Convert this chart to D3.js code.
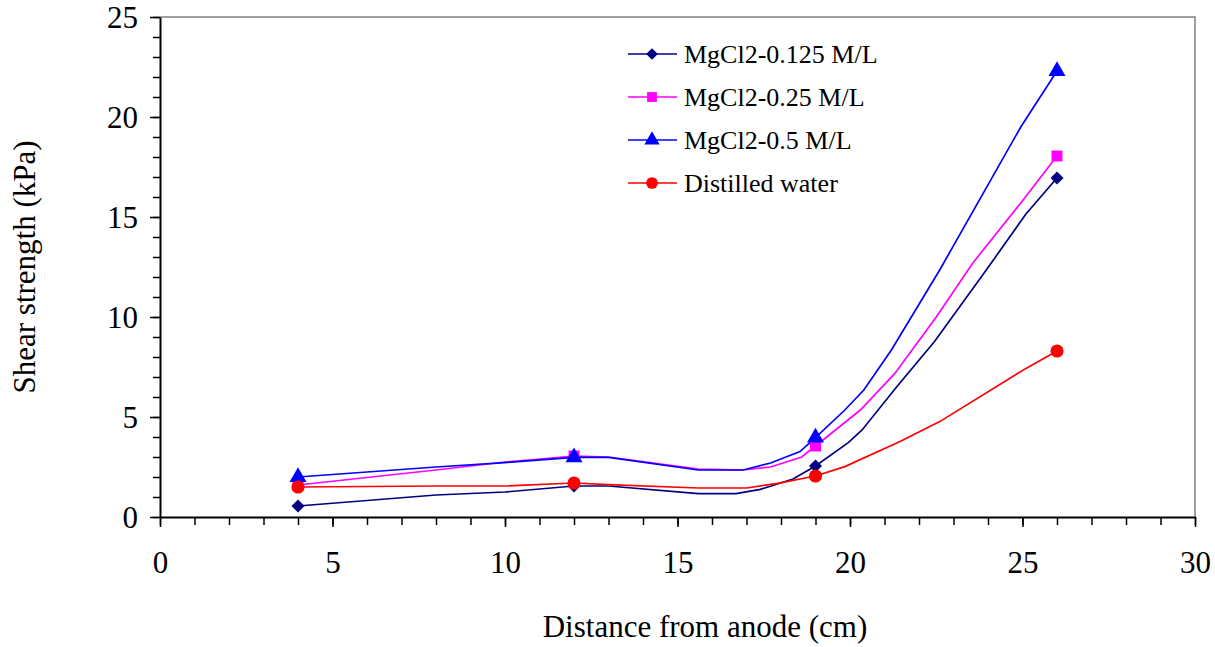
<!DOCTYPE html>
<html>
<head>
<meta charset="utf-8">
<script src="https://cdn.jsdelivr.net/npm/d3@7"></script>
<style>
  body { margin: 0; background: #fff; }
  svg text { font-family: "Liberation Serif", "Times New Roman", serif; fill: #000; }
</style>
</head>
<body>
<svg id="chart" width="1215" height="647"></svg>
<script>
// measured points (markers)
const distance = [4, 12, 19, 26]
const mg0125 = [0.55, 1.55, 2.55, 16.95]
const mg025 = [1.6, 3.05, 3.55, 18.05]
const mg05 = [2.0, 2.98, 3.97, 22.3]
const water = [1.5, 1.7, 2.05, 8.3]

// line traces as they appear in the picture (x, y pairs)
const mg0125Line = [[4, 0.55], [8, 1.1], [10, 1.25], [12, 1.55], [13, 1.55], [15.6, 1.17], [16.7, 1.17], [17.4, 1.38], [18.35, 1.9], [19, 2.55], [19.95, 3.72], [20.35, 4.35], [21.35, 6.5], [22.45, 8.77], [23.95, 12.35], [25.1, 15.15], [26, 16.95]]
const mg025Line = [[4, 1.6], [8, 2.35], [10, 2.75], [12, 3.05], [13, 3.0], [15.6, 2.4], [16.9, 2.35], [17.7, 2.5], [18.6, 3.0], [19, 3.55], [20.3, 5.35], [21.3, 7.18], [22.5, 10.0], [23.55, 12.68], [24.95, 15.7], [26, 18.05]]
const mg05Line = [[4, 2.0], [8, 2.5], [10, 2.72], [12, 2.98], [13, 2.98], [15.6, 2.35], [16.9, 2.35], [17.7, 2.7], [18.55, 3.27], [19, 3.97], [19.85, 5.35], [20.4, 6.35], [21.2, 8.35], [22.6, 12.35], [24.95, 19.5], [26, 22.3]]
const waterLine = [[4, 1.5], [8, 1.55], [10, 1.55], [12, 1.7], [13, 1.62], [15.6, 1.45], [17, 1.45], [17.9, 1.68], [19, 2.05], [19.85, 2.52], [21.45, 3.77], [22.6, 4.77], [25.1, 7.43], [26, 8.3]]

const seriesNames = ['MgCl2-0.125 M/L', 'MgCl2-0.25 M/L', 'MgCl2-0.5 M/L', 'Distilled water']
const xTicks = [0, 5, 10, 15, 20, 25, 30]
const yTicks = [0, 5, 10, 15, 20, 25]

const series = [
  { name: seriesNames[0], values: mg0125, line: mg0125Line, color: '#000080', symbol: d3.symbolSquare, size: 85, rot: 45 },
  { name: seriesNames[1], values: mg025, line: mg025Line, color: '#FF00FF', symbol: d3.symbolSquare, size: 120, rot: 0 },
  { name: seriesNames[2], values: mg05, line: mg05Line, color: '#0000FF', symbol: d3.symbolTriangle, size: 125, rot: 0 },
  { name: seriesNames[3], values: water, line: waterLine, color: '#FF0000', symbol: d3.symbolCircle, size: 135, rot: 0 }
]

const serif = 'Liberation Serif, Times New Roman, serif'
const svg = d3.select('#chart')
const plotL = 160, plotR = 1195, plotT = 17, plotB = 517

const x = d3.scaleLinear().domain([0, 30]).range([plotL, plotR])
const y = d3.scaleLinear().domain([0, 25]).range([plotB, plotT])

// plot border (top and right in grey)
svg.append('path')
  .attr('d', `M${plotL},${plotT}H${plotR}V${plotB}`)
  .attr('fill', 'none').attr('stroke', '#808080').attr('stroke-width', 1.5)

// minor ticks
svg.append('g').attr('transform', `translate(0,${plotB})`)
  .call(d3.axisBottom(x).tickValues(d3.range(0, 31)).tickSize(8).tickFormat(''))
  .call(g => g.select('.domain').remove())
svg.append('g').attr('transform', `translate(${plotL},0)`)
  .call(d3.axisLeft(y).tickValues(d3.range(0, 26)).tickSize(7).tickFormat(''))
  .call(g => g.select('.domain').remove())

// major axes
const xAxis = svg.append('g').attr('transform', `translate(0,${plotB})`)
  .call(d3.axisBottom(x).tickValues(xTicks).tickSize(10).tickSizeOuter(0).tickPadding(24))
const yAxis = svg.append('g').attr('transform', `translate(${plotL},0)`)
  .call(d3.axisLeft(y).tickValues(yTicks).tickSize(10).tickSizeOuter(0).tickPadding(12))

xAxis.attr('font-family', serif).attr('font-size', 31)
yAxis.attr('font-family', serif).attr('font-size', 31)
svg.selectAll('.tick line').attr('stroke', '#000').attr('stroke-width', 1.5)
svg.selectAll('.domain').attr('stroke', '#000').attr('stroke-width', 2)
yAxis.selectAll('.tick text').attr('dy', '0.33em')

// lines and markers
const line = d3.line().x(d => x(d[0])).y(d => y(d[1]))
series.forEach(s => {
  svg.append('path').datum(s.line)
    .attr('d', line)
    .attr('fill', 'none').attr('stroke', s.color).attr('stroke-width', 1.7)
})
series.forEach(s => {
  svg.append('g').selectAll('path').data(distance).enter()
    .append('path')
    .attr('transform', (d, i) => `translate(${x(d)},${y(s.values[i])}) rotate(${s.rot})`)
    .attr('d', d3.symbol().type(s.symbol).size(s.size))
    .attr('fill', s.color)
})

// legend
const legend = svg.append('g')
series.forEach((s, i) => {
  const ly = 54 + i * 43
  legend.append('line').attr('x1', 628).attr('x2', 677).attr('y1', ly).attr('y2', ly)
    .attr('stroke', s.color).attr('stroke-width', 1.7)
  legend.append('path').attr('transform', `translate(652,${ly}) rotate(${s.rot})`)
    .attr('d', d3.symbol().type(s.symbol).size(s.size * 0.8)).attr('fill', s.color)
  legend.append('text').attr('x', 684).attr('y', ly + 9)
    .attr('font-family', serif).attr('font-size', 26).text(s.name)
})

// axis titles
svg.append('text').attr('x', 705).attr('y', 637).attr('text-anchor', 'middle')
  .attr('font-family', serif).attr('font-size', 31).text('Distance from anode (cm)')
svg.append('text').attr('transform', 'translate(35,267) rotate(-90)').attr('text-anchor', 'middle')
  .attr('font-family', serif).attr('font-size', 31).text('Shear strength (kPa)')
</script>
</body>
</html>
